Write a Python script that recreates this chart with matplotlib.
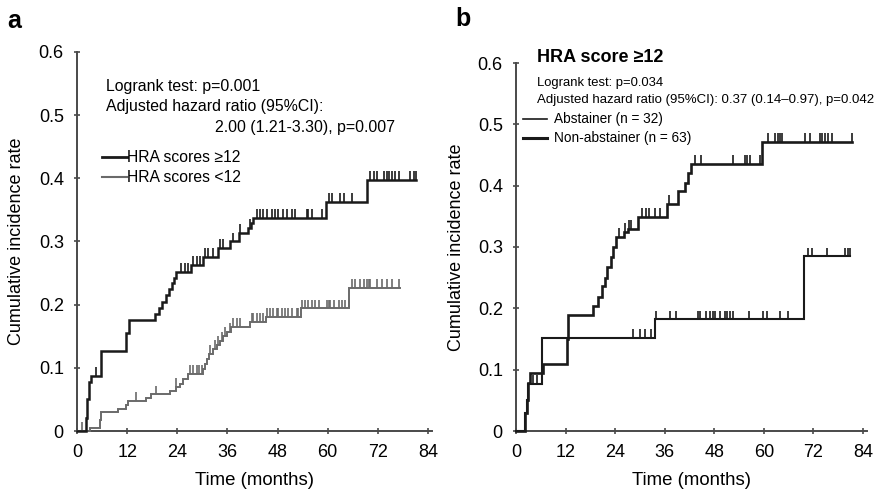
import numpy as np
import matplotlib
matplotlib.use("Agg")
import matplotlib.pyplot as plt

plt.rcParams['font.family'] = ['Liberation Sans', 'DejaVu Sans']

# ---------------- Panel a: HRA score groups ----------------
hi_times = [2.2, 2.5, 2.9, 3.4, 5.8, 11.7, 12.5, 18.6, 19.6, 20.4, 21.2, 22.0, 22.7,
            23.2, 23.6, 27.4, 30.2, 33.8, 36.6, 38.8, 41.0, 41.6, 42.2, 59.7, 69.4]
hi_levels = [0.02, 0.05, 0.078, 0.087, 0.126, 0.155, 0.175, 0.185, 0.195, 0.205, 0.215,
             0.225, 0.235, 0.243, 0.252, 0.263, 0.276, 0.29, 0.30, 0.313, 0.322, 0.33,
             0.337, 0.362, 0.398]
hi_end = 81.2
hi_censor = [4.6, 25.0, 25.8, 26.6, 27.8, 28.6, 29.4, 30.6, 31.4, 32.6, 34.2, 35.0,
             37.4, 39.0, 41.4, 43.0, 43.8, 44.6, 45.4, 46.6, 47.4, 48.2, 49.4, 50.2,
             51.4, 52.2, 55.0, 55.4, 56.2, 58.6, 60.2, 61.0, 63.0, 63.8, 65.8, 70.2,
             71.0, 71.8, 73.4, 74.2, 74.6, 75.4, 76.2, 77.0, 79.8, 80.6, 81.2]

lo_times = [3.2, 5.4, 5.8, 9.8, 11.8, 12.2, 16.6, 17.8, 22.2, 23.7, 24.6, 25.4, 26.6,
            30.2, 30.6, 31.2, 31.7, 32.6, 33.4, 34.2, 34.9, 35.8, 36.9, 41.4, 45.2,
            53.6, 65.2]
lo_levels = [0.005, 0.018, 0.03, 0.035, 0.041, 0.047, 0.052, 0.058, 0.064, 0.07, 0.075,
             0.082, 0.09, 0.098, 0.106, 0.114, 0.122, 0.13, 0.136, 0.143, 0.15, 0.157,
             0.165, 0.173, 0.181, 0.194, 0.226]
lo_end = 77.4
lo_censor = [1.3, 14.2, 19.0, 23.8, 27.0, 27.7, 28.6, 29.3, 29.8, 31.8, 33.0, 33.8,
             34.6, 35.4, 36.6, 37.4, 38.2, 39.0, 41.8, 42.2, 43.0, 43.8, 44.6, 45.4,
             46.2, 47.0, 47.8, 48.2, 49.0, 49.8, 50.6, 51.4, 52.6, 53.0, 53.8, 54.6,
             55.4, 56.2, 57.0, 57.8, 59.8, 60.2, 60.6, 61.4, 62.6, 63.4, 64.2, 65.0,
             65.8, 66.6, 67.8, 68.6, 69.4, 69.8, 70.2, 71.8, 73.0, 74.2, 75.4, 77.0]

# ---------------- Panel b: abstainers vs non-abstainers ----------------
ab_times = [2.2, 2.6, 3.0, 6.2, 33.7, 69.7]
ab_levels = [0.03, 0.05, 0.077, 0.152, 0.182, 0.285]
ab_end = 80.9
ab_censor = [4.2, 5.0, 28.3, 29.9, 31.3, 32.6, 33.9, 37.2, 38.8, 44.1, 44.5, 46.1,
             46.9, 47.7, 48.1, 49.4, 50.6, 51.0, 51.8, 52.6, 56.3, 59.9, 60.7, 63.9,
             65.9, 70.8, 71.6, 75.2, 79.6, 80.4, 80.9]

na_times = [2.2, 2.6, 3.0, 3.4, 6.5, 12.3, 12.7, 18.7, 19.9, 20.7, 21.5, 22.1, 23.1,
            23.6, 24.2, 26.1, 27.0, 29.6, 36.5, 39.3, 40.9, 41.6, 42.3, 59.5]
na_levels = [0.03, 0.05, 0.078, 0.095, 0.11, 0.15, 0.189, 0.203, 0.219, 0.236, 0.25,
             0.268, 0.283, 0.30, 0.317, 0.325, 0.33, 0.349, 0.37, 0.391, 0.405, 0.42,
             0.436, 0.472]
na_end = 81.3
na_censor = [25.0, 26.5, 27.4, 27.8, 30.5, 31.4, 32.3, 33.6, 34.8, 37.0, 43.3, 44.9,
             52.6, 55.4, 55.8, 56.6, 59.1, 61.1, 62.7, 63.5, 63.9, 64.3, 69.9, 71.2,
             73.6, 74.0, 74.8, 75.6, 76.4, 81.3]

x_ticks = [0, 12, 24, 36, 48, 60, 72, 84]
y_ticks = [0, 0.1, 0.2, 0.3, 0.4, 0.5, 0.6]
y_ticklabels = ['0', '0.1', '0.2', '0.3', '0.4', '0.5', '0.6']

W, H = 875, 491
fig = plt.figure(figsize=(W / 100, H / 100), dpi=100)


def px_box(left, right, top, bottom):
    return [left / W, 1 - bottom / H, (right - left) / W, (bottom - top) / H]


def draw_curve(ax, times, levels, end, censor, color, lw, mark_h):
    xs = [0] + list(times) + [end]
    ys = [0] + list(levels) + [levels[-1]]
    ax.step(xs, ys, where='post', color=color, lw=lw, solid_joinstyle='miter',
            clip_on=False, zorder=3)
    t_arr = np.array(times)
    lv = np.array([0] + list(levels))
    for c in censor:
        y0 = lv[np.searchsorted(t_arr, c, side='right')]
        ax.vlines(c, y0, y0 + mark_h, color=color, lw=1.2, zorder=3)


def style_axes(ax, left_px, label_px):
    ax.set_xlim(0, 85)
    ax.set_ylim(0, 0.6)
    for s in ('top', 'right'):
        ax.spines[s].set_visible(False)
    for s in ('left', 'bottom'):
        ax.spines[s].set_color('#4a4a4a')
        ax.spines[s].set_linewidth(1.4)
    ax.set_xticks(x_ticks)
    ax.set_yticks(y_ticks)
    ax.set_yticklabels(y_ticklabels)
    ax.tick_params(direction='inout', length=5, width=1.2, color='#4a4a4a',
                   labelsize=13, pad=7)
    ax.set_xlabel('Time (months)', fontsize=13.4, labelpad=8)
    ax.set_ylabel('Cumulative incidence rate', fontsize=13)
    width_px = ax.get_position().width * W
    ax.yaxis.set_label_coords(-(left_px - label_px) / width_px, 0.5)


# Panel a
axa = fig.add_axes(px_box(77, 77 + 85 * (351 / 84), 52, 431))
style_axes(axa, 77, 25)
draw_curve(axa, lo_times, lo_levels, lo_end, lo_censor, '#6a6a6a', 1.4, 0.014)
draw_curve(axa, hi_times, hi_levels, hi_end, hi_censor, '#1a1a1a', 1.8, 0.014)

fig.text(7 / W, 1 - 21 / H, 'a', fontsize=18, fontweight='bold', va='center')
fig.text(106 / W, 1 - 87 / H, 'Logrank test: p=0.001', fontsize=11.4, va='center')
fig.text(106 / W, 1 - 107 / H, 'Adjusted hazard ratio (95%CI):', fontsize=11.4, va='center')
fig.text(395 / W, 1 - 128 / H, '2.00 (1.21-3.30), p=0.007', fontsize=11.4,
         va='center', ha='right')
fig.add_artist(plt.Line2D([102 / W, 127 / W], [1 - 157 / H] * 2, color='#1a1a1a', lw=2))
fig.add_artist(plt.Line2D([102 / W, 127 / W], [1 - 177 / H] * 2, color='#6a6a6a', lw=1.5))
fig.text(127 / W, 1 - 157 / H, 'HRA scores ≥12', fontsize=11.3, va='center')
fig.text(127 / W, 1 - 177 / H, 'HRA scores <12', fontsize=11.3, va='center')

# Panel b
axb = fig.add_axes(px_box(516, 516 + 85 * (347 / 84), 63, 431))
style_axes(axb, 516, 465)
draw_curve(axb, ab_times, ab_levels, ab_end, ab_censor, '#1a1a1a', 1.5, 0.014)
draw_curve(axb, na_times, na_levels, na_end, na_censor, '#1a1a1a', 1.9, 0.014)

fig.text(455 / W, 1 - 19 / H, 'b', fontsize=18, fontweight='bold', va='center')
fig.text(537 / W, 1 - 57 / H, 'HRA score ≥12', fontsize=13, fontweight='bold', va='center')
fig.text(537 / W, 1 - 83 / H, 'Logrank test: p=0.034', fontsize=9.4, va='center')
fig.text(537 / W, 1 - 100 / H,
         'Adjusted hazard ratio (95%CI): 0.37 (0.14\u20130.97), p=0.042',
         fontsize=9.5, va='center')
fig.add_artist(plt.Line2D([523 / W, 547 / W], [1 - 119 / H] * 2, color='#1a1a1a', lw=1.2))
fig.add_artist(plt.Line2D([523 / W, 547 / W], [1 - 138 / H] * 2, color='#1a1a1a', lw=2.2))
fig.text(554 / W, 1 - 119 / H, 'Abstainer (n = 32)', fontsize=9.8, va='center')
fig.text(554 / W, 1 - 138 / H, 'Non-abstainer (n = 63)', fontsize=9.8, va='center')

fig.savefig('out.png', dpi=100, facecolor='white')
